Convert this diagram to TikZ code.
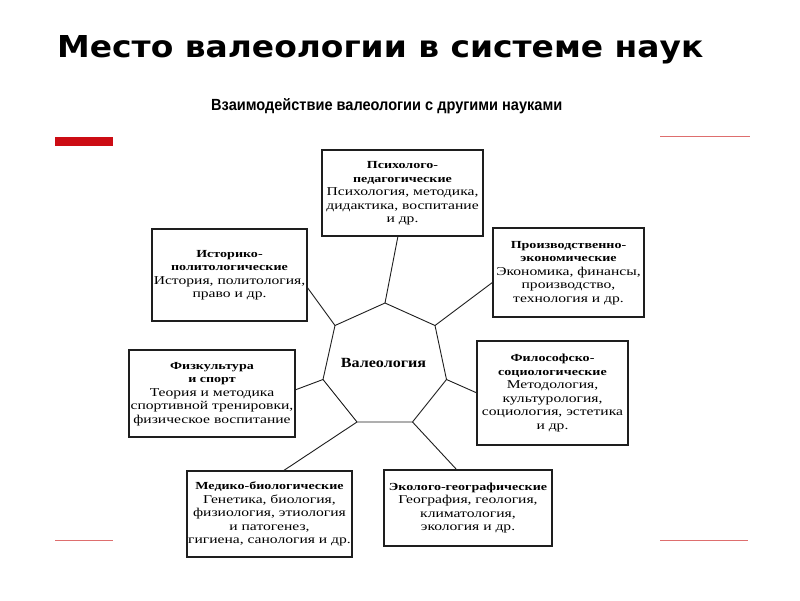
\documentclass[tikz,border=0pt]{standalone}
\usepackage{fontspec}
\setmainfont{Liberation Serif}
\newfontfamily\titlefont{DejaVu Sans}
\newfontfamily\subfont{Liberation Sans}
\usepackage{graphicx}
\definecolor{redbar}{RGB}{204,12,20}
\definecolor{redline}{RGB}{222,110,110}
\definecolor{ink}{RGB}{30,30,30}
\newcommand{\bx}[1]{\scalebox{1.3}[1]{\fontsize{12}{13.5}\selectfont\begin{tabular}{@{}c@{}}#1\end{tabular}}}
\newcommand{\hd}[1]{{\fontsize{10.8}{13.5}\selectfont\bfseries #1}}
\begin{document}
\begin{tikzpicture}[x=1pt,y=-1pt,
  boxst/.style={draw=ink, line width=1.1pt, inner sep=0pt, outer sep=0pt, text=black},
  spoke/.style={draw=ink, line width=0.9pt}]
\useasboundingbox[fill=white] (0,0) rectangle (800,600);

% title and subtitle
\node[anchor=base west, inner sep=0pt] (title) at (57,57)
  {\resizebox{646pt}{22pt}{\titlefont\bfseries Место валеологии в системе наук}};
\node[anchor=base west, inner sep=0pt] (sub) at (211,110)
  {\resizebox{351pt}{12pt}{\subfont\bfseries Взаимодействие валеологии с другими науками}};

% decorative lines
\fill[redbar] (55,137) rectangle (113,146);
\draw[redline, line width=1pt] (660,136.5) -- (750,136.5);
\draw[redline, line width=1pt] (55,540.5) -- (113,540.5);
\draw[redline, line width=1pt] (660,540.5) -- (748,540.5);

% heptagon
\coordinate (v0) at (385,303);
\coordinate (v1) at (435,325.5);
\coordinate (v2) at (446.5,379.5);
\coordinate (v3) at (412.5,422);
\coordinate (v4) at (357,422);
\coordinate (v5) at (323,379.5);
\coordinate (v6) at (335,325.5);
\draw[spoke] (v0) -- (v1) -- (v2) -- (v3) -- (v4) -- (v5) -- (v6) -- cycle;
\node[anchor=base, inner sep=0pt] (val) at (383.5,367)
  {\scalebox{1.15}[1]{\fontsize{14}{14}\selectfont\bfseries Валеология}};

% boxes
\node[boxst, minimum width=161pt, minimum height=86pt] (psych) at (402.5,193)
  {\bx{\hd{Психолого-}\\ \hd{педагогические}\\ Психология, методика,\\ дидактика, воспитание\\ и др.}};
\node[boxst, minimum width=155pt, minimum height=92pt] (hist) at (229.5,275)
  {\bx{\hd{Историко-}\\ \hd{политологические}\\ История, политология,\\ право и др.}};
\node[boxst, minimum width=151pt, minimum height=89pt] (prod) at (568.5,272.5)
  {\bx{\hd{Производственно-}\\ \hd{экономические}\\ Экономика, финансы,\\ производство,\\ технология и др.}};
\node[boxst, minimum width=166pt, minimum height=87pt] (fiz) at (212,393.5)
  {\bx{\hd{Физкультура}\\ \hd{и спорт}\\ Теория и методика\\ спортивной тренировки,\\ физическое воспитание}};
\node[boxst, minimum width=151pt, minimum height=104pt] (phil) at (552.5,393)
  {\bx{\hd{Философско-}\\ \hd{социологические}\\ Методология,\\ культурология,\\ социология, эстетика\\ и др.}};
\node[boxst, minimum width=165pt, minimum height=86pt] (med) at (269.5,514)
  {\bx{\hd{Медико-биологические}\\ Генетика, биология,\\ физиология, этиология\\ и патогенез,\\ гигиена, санология и др.}};
\node[boxst, minimum width=168pt, minimum height=76pt] (eco) at (468,508)
  {\bx{\hd{Эколого-географические}\\ География, геология,\\ климатология,\\ экология и др.}};

% spokes
\draw[spoke] (v0) -- ([xshift=-4.5pt]psych.south);
\draw[spoke] (v6) -- ([yshift=-12pt]hist.east);
\draw[spoke] (v1) -- ([yshift=-9.5pt]prod.west);
\draw[spoke] (v2) -- (phil.west);
\draw[spoke] (v5) -- ([yshift=3.5pt]fiz.east);
\draw[spoke] (v4) -- ([xshift=13.5pt]med.north);
\draw[spoke] (v3) -- ([xshift=-11pt]eco.north);
\end{tikzpicture}
\end{document}
